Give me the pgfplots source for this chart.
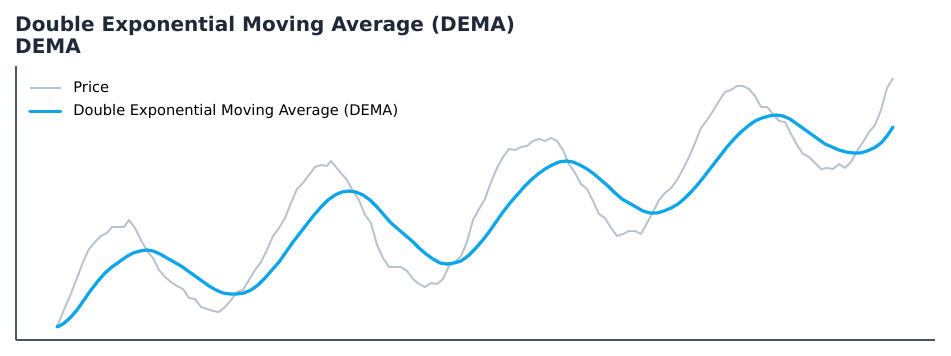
\documentclass[border=0pt]{standalone}
\usepackage{pgfplots}
\pgfplotsset{compat=1.18}
\usepackage{pgfplotstable}
\usepackage{fontspec}
\setmainfont{DejaVu Sans}
\definecolor{pricecol}{HTML}{B8C2D0}
\definecolor{demacol}{HTML}{0EA5E9}
\definecolor{titlecol}{HTML}{1F2937}
\definecolor{spinecol}{HTML}{4B5563}

\pgfplotstableread{
x y
57 -327
63 -312
70 -296
77 -278
83 -262
89 -249
95 -242
101 -236
107 -233
112 -227
118 -227
124 -227
129 -220
135 -228
141 -240
147 -251
153 -258
159 -270
165 -277
171 -282
177 -286
183 -289
189 -298
195 -299
201 -307
207 -309
213 -311
219 -312
225 -307
231 -300
237 -292
243 -290
249 -280
255 -270
261 -262
267 -250
273 -236
279 -228
285 -218
291 -203
297 -189
303 -183
309 -175
315 -167
321 -165
327 -166
331 -161
335 -166
341 -173
347 -180
353 -191
359 -200
365 -215
371 -223
377 -245
383 -258
389 -267
395 -267
401 -267
407 -271
413 -279
419 -284
425 -287
431 -283
437 -284
443 -279
449 -266
455 -262
461 -256
467 -242
473 -220
479 -209
485 -199
491 -182
497 -168
503 -157
509 -149
515 -150
521 -147
527 -146
533 -141
539 -139
545 -141
551 -138
557 -141
563 -150
569 -164
575 -173
581 -184
587 -189
593 -201
599 -214
605 -218
611 -228
617 -236
623 -234
629 -231
635 -231
641 -234
647 -223
653 -212
659 -200
665 -193
671 -188
677 -180
683 -169
689 -157
695 -143
701 -128
707 -120
713 -111
719 -101
725 -92
731 -90
737 -86
743 -86
749 -89
755 -96
761 -107
767 -107
773 -114
779 -121
785 -122
791 -134
797 -145
803 -154
809 -157
815 -163
821 -169
827 -168
833 -169
839 -164
845 -168
851 -162
857 -151
863 -142
869 -132
875 -125
881 -110
887 -88
893 -78
}\price

\pgfplotstableread{
x y
57 -327
63 -324
70 -318
77 -310
84 -300
91 -290
98 -281
105 -273
112 -267
119 -262
126 -257
133 -253
140 -251
147 -250
153 -251
160 -254
167 -258
174 -262
181 -266
188 -271
195 -276
202 -281
209 -286
216 -290
223 -293
230 -294
237 -294
244 -293
251 -290
258 -285
265 -278
272 -270
279 -262
286 -252
293 -242
300 -233
307 -224
314 -215
321 -207
328 -200
335 -195
342 -192
349 -191
356 -192
363 -195
370 -200
377 -207
384 -215
391 -223
398 -229
405 -235
412 -241
419 -248
426 -254
433 -259
440 -263
447 -264
454 -263
461 -261
468 -256
475 -249
482 -241
489 -232
496 -222
503 -212
510 -203
517 -195
524 -187
531 -180
538 -174
545 -169
552 -165
559 -162
566 -161
573 -162
580 -165
587 -169
594 -174
601 -180
608 -186
615 -193
622 -199
629 -203
636 -207
643 -211
650 -213
657 -213
664 -211
671 -208
678 -204
685 -198
692 -191
699 -183
706 -174
713 -165
720 -156
727 -147
734 -139
741 -132
748 -126
755 -121
762 -118
769 -116
776 -115
783 -116
790 -119
797 -124
804 -129
811 -134
818 -139
825 -144
832 -147
839 -150
846 -152
853 -153
860 -153
867 -151
874 -148
881 -143
887 -136
893 -127
}\dema

\begin{document}
\begin{tikzpicture}
\path[use as bounding box] (0,0) rectangle (951bp,356bp);
\node[anchor=base west, inner sep=0pt, text=titlecol, font=\fontsize{20.1}{24}\selectfont\bfseries] at (15bp,324bp) {Double Exponential Moving Average (DEMA)};
\node[anchor=base west, inner sep=0pt, text=titlecol, font=\fontsize{20.1}{24}\selectfont\bfseries] at (15bp,302bp) {DEMA};
\begin{axis}[
  at={(16bp,16bp)}, anchor=south west,
  scale only axis, width=919bp, height=274bp,
  xmin=16, xmax=935, ymin=-340, ymax=-66,
  axis x line*=bottom, axis y line*=left,
  axis line style={-, draw=spinecol, line width=1.6bp},
  xtick=\empty, ytick=\empty,
  clip=false,
  legend cell align=left,
  legend image code/.code={\path[draw=none] (0bp,8bp); \draw[#1] (0bp,0bp) -- (31bp,0bp);},
  legend style={draw=none, fill=none, inner sep=0pt, at={(axis cs:28,-80)}, anchor=north west,
    font=\fontsize{14.7}{17}\selectfont,
    nodes={inner sep=0pt, text height=11bp, text depth=3bp},
    row sep=8.5bp,
    /tikz/every odd column/.style={column sep=11bp}},
]
\addplot[pricecol, line width=1.9bp, line join=round] table[x=x,y=y] {\price};
\addlegendentry{Price}
\addplot[demacol, line width=3.2bp, line join=round, line cap=round] table[x=x,y=y] {\dema};
\addlegendentry{Double Exponential Moving Average (DEMA)}
\end{axis}
\end{tikzpicture}
\end{document}
